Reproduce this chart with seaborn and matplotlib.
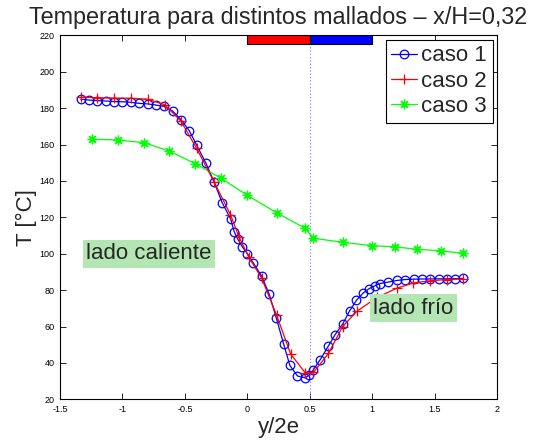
import numpy as np
import pandas as pd
import matplotlib
matplotlib.use("Agg")
import matplotlib.pyplot as plt
import seaborn as sns

# ---- data ----
caso1_x = [-1.334, -1.265, -1.201, -1.133, -1.068, -1.001, -0.933, -0.866, -0.799, -0.733,
           -0.666, -0.598, -0.530, -0.465, -0.406, -0.333, -0.267, -0.201, -0.133, -0.105,
           -0.075, -0.040, 0.001, 0.048, 0.115, 0.176, 0.233, 0.291, 0.341, 0.402,
           0.464, 0.498, 0.528, 0.584, 0.648, 0.704, 0.766, 0.819, 0.874, 0.928,
           0.976, 1.020, 1.062, 1.128, 1.198, 1.266, 1.332, 1.398, 1.465, 1.532,
           1.598, 1.665, 1.729]
caso1_T = [184.9, 184.4, 184.1, 183.9, 183.6, 183.5, 183.2, 182.6, 182.3, 181.7,
           180.9, 178.4, 173.6, 167.6, 159.7, 150.0, 139.6, 128.0, 119.1, 112.1,
           107.9, 103.8, 100.0, 94.9, 87.7, 77.7, 64.5, 50.4, 38.6, 32.8,
           31.8, 33.4, 36.1, 41.8, 49.1, 55.6, 61.6, 68.5, 74.4, 78.4,
           80.8, 82.3, 83.6, 84.4, 85.3, 85.8, 86.0, 86.1, 86.1, 86.2,
           86.2, 86.3, 86.4]

caso2_x = [-1.334, -1.200, -1.068, -0.932, -0.799, -0.663, -0.531, -0.406, -0.267, -0.135,
           -0.067, 0.013, 0.115, 0.235, 0.347, 0.466, 0.530, 0.650, 0.763, 0.880,
           1.040, 1.196, 1.330, 1.462, 1.596, 1.729]
caso2_T = [186.0, 185.7, 185.5, 185.4, 184.9, 181.9, 172.8, 157.9, 139.6, 121.5,
           109.3, 98.0, 86.5, 66.2, 44.9, 34.4, 34.8, 45.2, 59.9, 68.5,
           76.0, 81.0, 83.9, 85.1, 85.8, 86.1]

caso3_x = [-1.246, -1.038, -0.827, -0.625, -0.417, -0.209, 0.000, 0.235, 0.462, 0.528,
           0.763, 0.998, 1.180, 1.361, 1.548, 1.729]
caso3_T = [162.9, 162.5, 161.0, 156.4, 149.5, 141.4, 132.1, 122.5, 114.0, 108.5,
           106.3, 104.4, 103.8, 102.4, 101.6, 100.2]

series_labels = ["caso 1", "caso 2", "caso 3"]

bar_x = [0.0, 0.5]
bar_colors = ["#ff0000", "#0000ff"]
bar_bottom = 215
bar_height = 5

x_ticks = [-1.5, -1, -0.5, 0, 0.5, 1, 1.5, 2]
x_ticklabels = ["-1.5", "-1", "-0.5", "0", "0.5", "1", "1.5", "2"]
y_ticks = list(range(20, 221, 20))

title = "Temperatura para distintos mallados \u2013 x/H=0,32"
xlabel = "y/2e"
ylabel = "T [°C]"
label_hot = "lado caliente"
label_cold = "lado frío"

# ---- style ----
sns.set_style("ticks")
plt.rcParams["font.family"] = ["Liberation Sans", "DejaVu Sans"]
plt.rcParams["axes.unicode_minus"] = False

fig = plt.figure(figsize=(5.38, 4.40), dpi=100)
ax = fig.add_axes([60 / 538, 1 - 399.3 / 440, 437 / 538, 364 / 440])

df1 = pd.DataFrame({"x": caso1_x, "T": caso1_T})
df2 = pd.DataFrame({"x": caso2_x, "T": caso2_T})
df3 = pd.DataFrame({"x": caso3_x, "T": caso3_T})

ax.axvline(0.5, color="#8c8cff", ls=":", lw=0.9, zorder=1)

sns.lineplot(data=df1, x="x", y="T", ax=ax, color="#0000ff", marker="o", markersize=6.2,
             mfc="none", mec="#0000ff", mew=0.9, lw=0.9, label=series_labels[0],
             estimator=None, sort=False, zorder=2)
sns.lineplot(data=df2, x="x", y="T", ax=ax, color="#ff0000", marker="+", markersize=7,
             mec="#ff0000", mfc="#ff0000", mew=0.9, lw=0.9, label=series_labels[1],
             estimator=None, sort=False, zorder=3)
sns.lineplot(data=df3, x="x", y="T", ax=ax, color="#00ff00", marker=(8, 2, 0), markersize=7,
             mec="#00ff00", mfc="#00ff00", mew=0.9, lw=0.9, label=series_labels[2],
             estimator=None, sort=False, zorder=2)

ax.bar(bar_x, [bar_height] * len(bar_x), bottom=bar_bottom, width=0.5, align="edge",
       color=bar_colors, edgecolor="black", lw=0.8, zorder=4)

ax.text(-1.29, 100, label_hot, fontsize=16, ha="left", va="center", zorder=5,
        bbox=dict(boxstyle="square,pad=0.15", facecolor="#b3e6b3", edgecolor="none"))
ax.text(1.01, 70, label_cold, fontsize=16, ha="left", va="center", zorder=5,
        bbox=dict(boxstyle="square,pad=0.15", facecolor="#b3e6b3", edgecolor="none"))

ax.set_xlim(-1.5, 2)
ax.set_ylim(20, 220)
ax.set_xticks(x_ticks)
ax.set_xticklabels(x_ticklabels)
ax.set_yticks(y_ticks)
ax.tick_params(direction="in", length=4, width=0.6, top=True, right=True,
               labelsize=6.5, pad=4, colors="black")
for s in ax.spines.values():
    s.set_visible(True)
    s.set_color("black")
    s.set_linewidth(0.8)

ax.set_title(title, fontsize=16.8, pad=8)
ax.set_xlabel(xlabel, fontsize=16, labelpad=2)
ax.set_ylabel(ylabel, fontsize=16, labelpad=1.5)

leg = ax.legend(loc="upper right", fontsize=16, frameon=True, fancybox=False,
                edgecolor="black", framealpha=1, borderaxespad=0.2, handlelength=1.15,
                handletextpad=0.2, labelspacing=0.2, borderpad=0.25)
leg.get_frame().set_linewidth(0.8)

fig.savefig("out.png", dpi=100)
